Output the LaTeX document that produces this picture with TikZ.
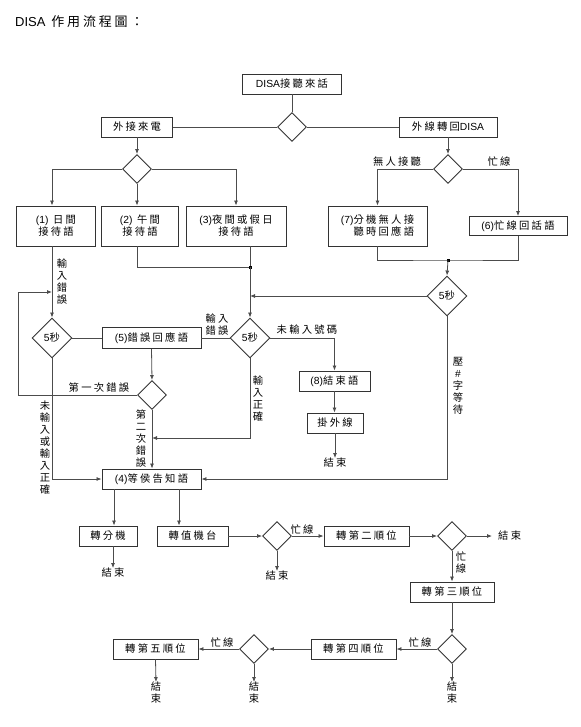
\documentclass[tikz,border=0pt]{standalone}
\usepackage{fontspec}
\setmainfont{Noto Sans CJK TC}[LetterSpace=22]
\newfontfamily\en{Liberation Sans}
\usepackage{tikz}
\usetikzlibrary{positioning, shapes, arrows.meta}

\tikzset{
  box/.style={draw=black!80, line width=0.9pt, rectangle, minimum height=20pt, inner sep=0pt, align=center},
  dia/.style={draw=black!80, line width=0.9pt, diamond, minimum size=29pt, inner sep=0pt},
  bigdia/.style={dia, minimum size=40pt},
  lbl/.style={inner sep=0pt, align=center},
  line/.style={draw=black!70, line width=0.8pt},
}

\begin{document}
\begin{tikzpicture}[x=1pt, y=-1pt, font=\fontsize{10.3}{12}\selectfont, >={Latex[length=5pt,width=4pt]}]
        \useasboundingbox (0,0) rectangle (580,727);

        % title
        \node[lbl, anchor=west, font=\fontsize{13}{15}\selectfont] (title) at (15,22) {{\en DISA} 作用流程圖：};

        % top part
        \node[box, minimum width=99pt] (disa) at (292,84) {{\en DISA}接聽來話};
        \node[dia] (dtop) at (292,127) {};
        \node[box, minimum width=71pt] (outcall) at (137,127) {外接來電};
        \node[box, minimum width=98pt] (back) at (448,127) {外線轉回{\en DISA}};
        \node[dia] (dtime) at (137,169) {};
        \node[dia] (dback) at (448,169) {};

        \node[box, minimum width=79pt, minimum height=40pt] (day) at (56,226) {{\en (1)} 日間\\接待語};
        \node[box, minimum width=77pt, minimum height=40pt] (noon) at (140,226) {{\en (2)} 午間\\接待語};
        \node[box, minimum width=100pt, minimum height=40pt] (night) at (236,226) {{\en (3)}夜間或假日\\接待語};
        \node[box, minimum width=99pt, minimum height=40pt, align=right] (noans) at (377.5,226) {{\en (7)}分機無人接\\聽時回應語};
        \node[box, minimum width=98pt, minimum height=19pt] (busy) at (518,226) {{\en (6)}忙線回話語};

        \coordinate (jl) at (250,267);
        \coordinate (jr) at (448,260);

        % 5 sec diamonds
        \node[bigdia] (dleft) at (52,338) {{\en 5}秒};
        \node[box, minimum width=99pt, minimum height=21pt] (errmsg) at (151.5,338) {{\en (5)}錯誤回應語};
        \node[bigdia] (dmid) at (250,338) {{\en 5}秒};
        \node[bigdia] (dright) at (447,296) {{\en 5}秒};
        \node[dia] (dcount) at (152,395) {};

        \node[box, minimum width=71pt] (bye) at (334.5,381) {{\en (8)}結束語};
        \node[box, minimum width=56pt] (hang) at (335,423) {掛外線};
        \node[lbl] (endhang) at (335,463) {結束};

        \node[box, minimum width=99pt] (wait) at (151.5,479) {{\en (4)}等侯告知語};

        % transfer part
        \node[box, minimum width=58pt] (toext) at (108,536) {轉分機};
        \node[box, minimum width=71pt] (toop) at (192.5,536) {轉值機台};
        \node[dia] (dop) at (277,536) {};
        \node[box, minimum width=85pt] (sec) at (366.5,536) {轉第二順位};
        \node[dia] (dsec) at (452,536) {};
        \node[box, minimum width=84pt] (thr) at (452,592) {轉第三順位};
        \node[dia] (dthr) at (452,649) {};
        \node[box, minimum width=85pt] (fou) at (353.5,649) {轉第四順位};
        \node[dia] (dfou) at (254,649) {};
        \node[box, minimum width=85pt] (fif) at (155.5,649) {轉第五順位};

        \node[lbl] (endext) at (113,573) {結束};
        \node[lbl] (endop) at (277,576) {結束};
        \node[lbl, anchor=west] (endsec) at (498,536) {結束};
        \node[lbl] (endthr) at (452,693) {結\\束};
        \node[lbl] (endfou) at (254,693) {結\\束};
        \node[lbl] (endfif) at (156,693) {結\\束};

        % connectors top
        \draw[line] (disa.south) -- (dtop.north);
        \draw[line] (dtop.west) -- (outcall.east);
        \draw[line] (dtop.east) -- (back.west);
        \draw[line, ->] (outcall.south) -- (dtime.north);
        \draw[line, ->] (back.south) -- (dback.north);

        \coordinate (dayin) at ([xshift=-4pt]day.north);
        \draw[line, ->] (dtime.west) -| (dayin);
        \draw[line, ->] (dtime.south) -- (dtime.south |- noon.north);
        \draw[line, ->] (dtime.east) -| (night.north);

        \draw[line, ->] (dback.west) -| (noans.north);
        \draw[line, ->] (dback.east) -| (busy.north);
        \node[lbl] (lnoans) at (397,162) {無人接聽};
        \node[lbl] (lbusy) at (499,162) {忙線};

        % merge lines
        \draw[line] (noon.south -| dtime) |- (jl);
        \draw[line] (jl |- night.south) -- (jl);
        \draw[line] (noans.south) |- (jr) -| (busy.south);
        \fill (jl) ++(-1.5,-1.5) rectangle ++(3,3);
        \fill (jr) ++(-1.5,-1.5) rectangle ++(3,3);
        \draw[line, ->] (jr) -- (dright.north);
        \draw[line, ->] (jl) -- (dmid.north);
        \draw[line, ->] (dright.west) -- (jl |- dright);

        % left 5 sec
        \draw[line, ->] (dayin |- day.south) -- (dleft.north);
        \node[lbl] (lerr1) at (62,282) {輸\\入\\錯\\誤};
        \draw[line] (dleft.east) -- (errmsg.west);
        \draw[line] (errmsg.east) -- (dmid.west);
        \node[lbl] (lerr2) at (217,325) {輸入\\錯誤};
        \draw[line, ->] (errmsg.south) -- (dcount.north);
        \coordinate (loop) at (18,292);
        \draw[line, ->] (dcount.west) -| (loop) -- (loop -| dleft);
        \node[lbl] (lfirst) at (99,388) {第一次錯誤};
        \draw[line, ->] (dcount.south) -- (dcount.south |- wait.north);
        \node[lbl] (lsecond) at (141,439) {第\\二\\次\\錯\\誤};

        \coordinate (okm) at (250,438);
        \draw[line, ->] (dmid.south) -- (okm) -- (okm -| dcount);
        \node[lbl] (lok) at (258,399) {輸\\入\\正\\確};
        \draw[line, ->] (dleft.south) |- (wait.west);
        \node[lbl] (lnone) at (45,448) {未\\輸\\入\\或\\輸\\入\\正\\確};

        \draw[line, ->] (dmid.east) -| (bye.north);
        \node[lbl] (lnonum) at (307,330) {未輸入號碼};
        \draw[line, ->] (bye.south) -- (bye.south |- hang.north);
        \draw[line, ->] (hang.south) -- (endhang.north);

        \draw[line, ->] (dright.south) |- (wait.east);
        \node[lbl] (lhash) at (458,386) {壓\\{\en \#}\\字\\等\\待};

        % transfer connectors
        \coordinate (a1) at ([xshift=6pt]toext.north);
        \coordinate (a2) at ([xshift=-13.5pt]toop.north);
        \draw[line, ->] (wait.south -| a1) -- (a1);
        \draw[line, ->] (wait.south -| a2) -- (a2);
        \draw[line, ->] (toext.south -| endext) -- (endext.north);
        \draw[line, ->] (toop.east) -- (dop.west);
        \draw[line, ->] (dop.south) -- (endop.north);
        \draw[line, ->] (dop.east) -- (sec.west);
        \node[lbl] (lb1) at (302,530) {忙線};
        \draw[line, ->] (sec.east) -- (dsec.west);
        \draw[line, ->] (dsec.east) -- ([xshift=-6pt]endsec.west);
        \draw[line, ->] (dsec.south) -- (thr.north);
        \node[lbl] (lb2) at (461,563) {忙\\線};
        \draw[line, ->] (thr.south) -- (dthr.north);
        \draw[line, ->] (dthr.south) -- (endthr.north);
        \draw[line, ->] (dthr.west) -- (fou.east);
        \node[lbl] (lb3) at (420,643) {忙線};
        \draw[line, ->] (fou.west) -- (dfou.east);
        \draw[line, ->] (dfou.south) -- (endfou.north);
        \draw[line, ->] (dfou.west) -- (fif.east);
        \node[lbl] (lb4) at (222,643) {忙線};
        \draw[line, ->] (fif.south) -- (endfif.north);

\end{tikzpicture}
\end{document}
